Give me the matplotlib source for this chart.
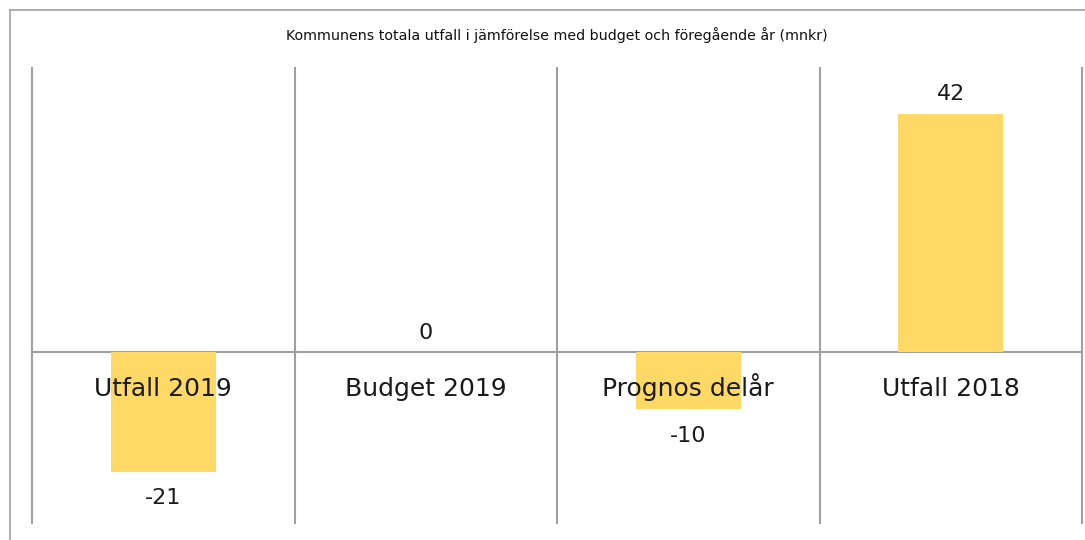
import matplotlib
matplotlib.use('Agg')
import matplotlib.pyplot as plt
from matplotlib.lines import Line2D

categories = ['Utfall 2019', 'Budget 2019', 'Prognos delår', 'Utfall 2018']
values = [-21, 0, -10, 42]

TITLE = 'Kommunens totala utfall i jämförelse med budget och föregående år (mnkr)'
BAR_COLOR = '#FFD966'
GRID_COLOR = '#A0A0A0'

W, H = 1085, 540
fig = plt.figure(figsize=(W / 100, H / 100), dpi=100, facecolor='white')

# outer frame (only left and top edges are visible in the picture)
fig.add_artist(Line2D([10 / W, 10 / W], [1 - 10 / H, 0], color=GRID_COLOR, lw=1.2))
fig.add_artist(Line2D([10 / W, 1], [1 - 10 / H, 1 - 10 / H], color=GRID_COLOR, lw=1.2))

ax = fig.add_axes([32 / W, 17 / H, (1082 - 32) / W, (523 - 68) / H])
ax.set_xlim(-0.5, len(categories) - 0.5)
ax.set_ylim(-30, 50)
for s in ax.spines.values():
    s.set_visible(False)
ax.set_xticks([])
ax.set_yticks([])

# separators between categories and the zero line
for b in range(len(categories) + 1):
    ax.axvline(b - 0.5, color=GRID_COLOR, lw=1.5, zorder=1, clip_on=False)
ax.axhline(0, color=GRID_COLOR, lw=1.5, zorder=1, clip_on=False)

x = list(range(len(categories)))
ax.bar(x, values, width=0.40, color=BAR_COLOR, zorder=2)

for i, v in zip(x, values):
    if v >= 0:
        ax.annotate(str(v), (i, v), xytext=(0, 7), textcoords='offset points',
                    ha='center', va='bottom', fontsize=16, color='#1a1a1a')
    else:
        ax.annotate(str(v), (i, v), xytext=(0, -12), textcoords='offset points',
                    ha='center', va='top', fontsize=16, color='#1a1a1a')

for i, name in zip(x, categories):
    ax.annotate(name, (i, 0), xytext=(0, -31.5), textcoords='offset points',
                ha='center', va='baseline', fontsize=18, color='#1a1a1a', zorder=3)

fig.text(557 / W, 1 - 35 / H, TITLE, ha='center', va='center',
         fontsize=10.3, color='#111111')

fig.savefig('out.png', dpi=100, facecolor='white')
